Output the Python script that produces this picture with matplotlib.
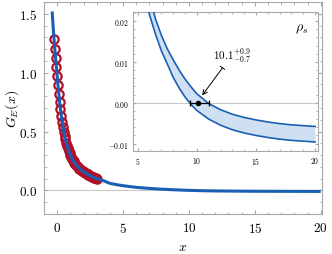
import matplotlib
matplotlib.use('Agg')
import matplotlib.pyplot as plt
from matplotlib.ticker import MultipleLocator, FuncFormatter

plt.rcParams['font.family'] = 'serif'
plt.rcParams['font.serif'] = ['cmr10', 'DejaVu Serif']
plt.rcParams['mathtext.fontset'] = 'cm'
plt.rcParams['axes.formatter.use_mathtext'] = True

# ---- main curve G_E(x) ----
curve_x = [-0.38, -0.3, -0.2, -0.1, 0.0, 0.1, 0.2, 0.3, 0.4, 0.5, 0.6, 0.7, 0.8,
           1.0, 1.2, 1.4, 1.6, 1.8, 2.0, 2.25, 2.5, 2.75, 3.0, 3.5, 4.0, 4.5,
           5.0, 6.0, 7.0, 8.0, 9.0, 10.0, 11.0, 12.0, 14.0, 16.0, 18.0, 20.0]
curve_g = [1.52, 1.38, 1.23, 1.10, 0.97, 0.85, 0.74, 0.645, 0.565, 0.50, 0.445,
           0.40, 0.362, 0.30, 0.255, 0.222, 0.196, 0.175, 0.158, 0.140, 0.125,
           0.112, 0.101, 0.083, 0.060, 0.049, 0.040, 0.026, 0.017, 0.010, 0.005,
           0.0005, -0.0025, -0.0045, -0.0065, -0.0075, -0.008, -0.0083]

# ---- lattice points (red circles) ----
data_x = [-0.25, -0.1875, -0.125, -0.0625, 0.0, 0.0625, 0.125, 0.1875, 0.25,
          0.3125, 0.375, 0.4375, 0.5, 0.5625, 0.625, 0.6875, 0.75, 0.8125,
          0.875, 0.9375, 1.0, 1.0625, 1.125, 1.1875, 1.25, 1.3125, 1.375,
          1.4375, 1.5, 1.5625, 1.625, 1.6875, 1.75, 1.8125, 1.875, 1.9375,
          2.0, 2.0625, 2.125, 2.1875, 2.25, 2.3125, 2.375, 2.4375, 2.5,
          2.5625, 2.625, 2.6875, 2.75, 2.8125, 2.875, 2.9375, 3.0]
data_g = [1.29, 1.205, 1.125, 1.05, 0.97, 0.895, 0.82, 0.755, 0.69, 0.635,
          0.585, 0.54, 0.50, 0.465, 0.433, 0.405, 0.381, 0.358, 0.338, 0.318,
          0.300, 0.285, 0.271, 0.258, 0.246, 0.236, 0.226, 0.217, 0.209, 0.201,
          0.193, 0.186, 0.180, 0.174, 0.168, 0.163, 0.158, 0.153, 0.149, 0.144,
          0.140, 0.136, 0.132, 0.129, 0.125, 0.122, 0.118, 0.115, 0.112, 0.109,
          0.106, 0.104, 0.101]

# ---- inset band (upper / lower) ----
band_x = [5.5, 6.0, 6.5, 7.0, 7.5, 8.0, 8.5, 9.0, 9.5, 10.0, 11.0, 12.0, 13.0,
          14.0, 15.0, 16.0, 17.0, 18.0, 19.0, 20.0]
band_hi = [0.032, 0.026, 0.0205, 0.0165, 0.0132, 0.0105, 0.0080, 0.0058, 0.0039,
           0.0022, -0.0002, -0.0017, -0.0028, -0.0036, -0.0042, -0.0047,
           -0.0051, -0.0054, -0.0056, -0.0058]
band_lo = [0.028, 0.0215, 0.0168, 0.0127, 0.0095, 0.0062, 0.0036, 0.0014,
           -0.0004, -0.0019, -0.0040, -0.0055, -0.0066, -0.0074, -0.0080,
           -0.0085, -0.0089, -0.0092, -0.0094, -0.0096]

# ---- rho_s estimate ----
rho_s = 10.1
rho_err_lo = 0.7
rho_err_hi = 0.9

blue = '#1a5fb4'
red = '#b0102a'
frame = '#a8a8a8'

fig = plt.figure(figsize=(3.32, 2.55), dpi=100)
ax = fig.add_axes([0.1325, 0.157, 0.8375, 0.831])

ax.axhline(0, color='#c8c8c8', lw=0.8, zorder=1)
ax.plot(data_x, data_g, 'o', mfc='none', mec=red, ms=6, mew=1.6, zorder=2)
ax.plot(curve_x, curve_g, color=blue, lw=2.2, solid_capstyle='butt', zorder=3)

ax.set_xlim(-1, 20.1)
ax.set_ylim(-0.2, 1.6)
ax.set_xticks([0, 5, 10, 15, 20])
ax.set_yticks([0.0, 0.5, 1.0, 1.5])
ax.xaxis.set_minor_locator(MultipleLocator(1))
ax.yaxis.set_minor_locator(MultipleLocator(0.1))
ax.xaxis.set_major_formatter(FuncFormatter(lambda v, p: '$%d$' % v))
ax.yaxis.set_major_formatter(FuncFormatter(lambda v, p: '$%.1f$' % v))
ax.tick_params(which='both', direction='in', top=True, right=True,
               color=frame, labelsize=9.5, pad=5)
ax.tick_params(which='major', length=3)
ax.tick_params(which='minor', length=1.8)
for s in ax.spines.values():
    s.set_color(frame)
ax.set_xlabel('$x$', fontsize=10, va='center')
ax.set_ylabel('$G_E(x)$', fontsize=10, va='center')
ax.xaxis.set_label_coords(0.5, -0.155)
ax.yaxis.set_label_coords(-0.115, 0.5)

# ---- inset ----
ins = fig.add_axes([0.4006, 0.404, 0.5574, 0.545])
ins.axhline(0, color='#c8c8c8', lw=0.8, zorder=1)
ins.fill_between(band_x, band_lo, band_hi, color='#cfe0f2', lw=0, zorder=2)
ins.plot(band_x, band_hi, color=blue, lw=1.2, zorder=3)
ins.plot(band_x, band_lo, color=blue, lw=1.2, zorder=3)
ins.errorbar([rho_s], [0], xerr=[[rho_err_lo], [rho_err_hi]], fmt='o',
             color='black', ms=3, elinewidth=0.9, capsize=2.2, capthick=0.9,
             zorder=4)
ins.annotate('$10.1^{+0.9}_{-0.7}$', xy=(10.45, 0.0018), xytext=(13.0, 0.0095),
             fontsize=8, ha='center', va='bottom',
             arrowprops=dict(arrowstyle=']->, widthA=0.25, lengthA=0',
                             color='black', lw=0.7, shrinkA=1, shrinkB=0))
ins.text(0.945, 0.88, r'$\rho_s$', transform=ins.transAxes, fontsize=10,
         ha='right', va='center')

ins.set_xlim(4.6, 20.25)
ins.set_ylim(-0.0118, 0.0222)
ins.set_xticks([5, 10, 15, 20])
ins.set_yticks([-0.01, 0.0, 0.01, 0.02])
ins.xaxis.set_minor_locator(MultipleLocator(1))
ins.yaxis.set_minor_locator(MultipleLocator(0.002))
ins.xaxis.set_major_formatter(FuncFormatter(lambda v, p: '$%d$' % v))
ins.yaxis.set_major_formatter(FuncFormatter(lambda v, p: '$%.2f$' % v))
ins.tick_params(which='both', direction='in', top=True, right=True,
                color=frame, labelsize=5.5, pad=3)
ins.tick_params(which='major', length=2.5)
ins.tick_params(which='minor', length=1.5)
for s in ins.spines.values():
    s.set_color(frame)

fig.savefig('out.png', dpi=100)
